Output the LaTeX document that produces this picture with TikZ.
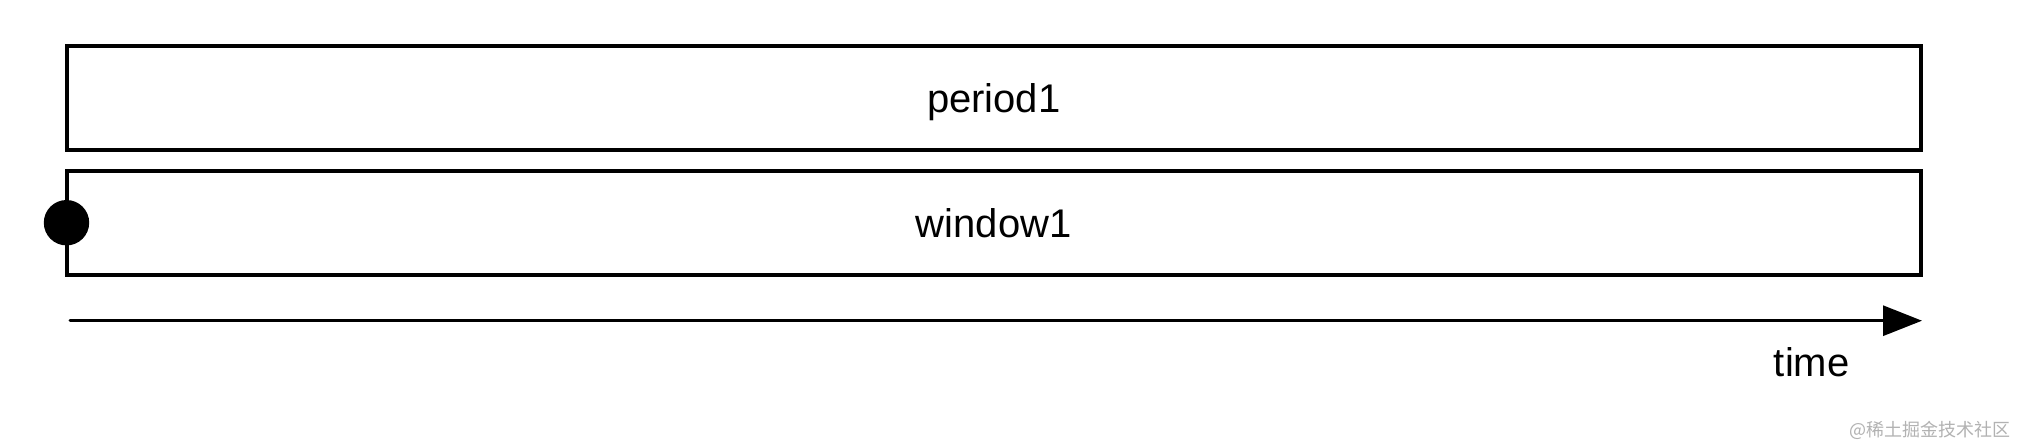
\documentclass[tikz,border=0pt]{standalone}
\usepackage{fontspec}
\setmainfont{Liberation Sans}
\newfontfamily\cjkfont{Noto Sans CJK SC}
\usetikzlibrary{arrows.meta}
\tikzset{
  bar/.style={draw=black, line width=2pt, inner sep=0pt, outer sep=0pt,
    minimum width=927.25pt, minimum height=52pt, text depth=0pt,
    font=\fontsize{20pt}{24pt}\selectfont},
  startdot/.style={circle, fill=black, inner sep=0pt, minimum size=22.7pt},
  timeline/.style={line width=1.5pt, line cap=round, -{Triangle[length=19.5pt,width=15pt]}},
  lbl/.style={font=\fontsize{20pt}{24pt}\selectfont, inner sep=0pt, anchor=base},
  wm/.style={font=\cjkfont\fontsize{9pt}{11pt}\selectfont, text=black!30, inner sep=0pt, anchor=base}
}
\begin{document}
\begin{tikzpicture}[x=0.5pt,y=-0.5pt]
  \useasboundingbox[fill=white] (0,0) rectangle (2017,446);
  \node[bar] (period) at (993.75,97.7) {period1};
  \node[bar] (window) at (993.75,222.7) {window1};
  \node[startdot] (dot) at (window.west) {};
  \coordinate (t0) at (70,320.7);
  \coordinate (t1) at (1922,320.7);
  \draw[timeline] (t0) -- (t1);
  \node[lbl] (time) at (1811.7,376.7) {time};
  \node[wm] (mark) at (1930,436) {@稀土掘金技术社区};
\end{tikzpicture}
\end{document}
